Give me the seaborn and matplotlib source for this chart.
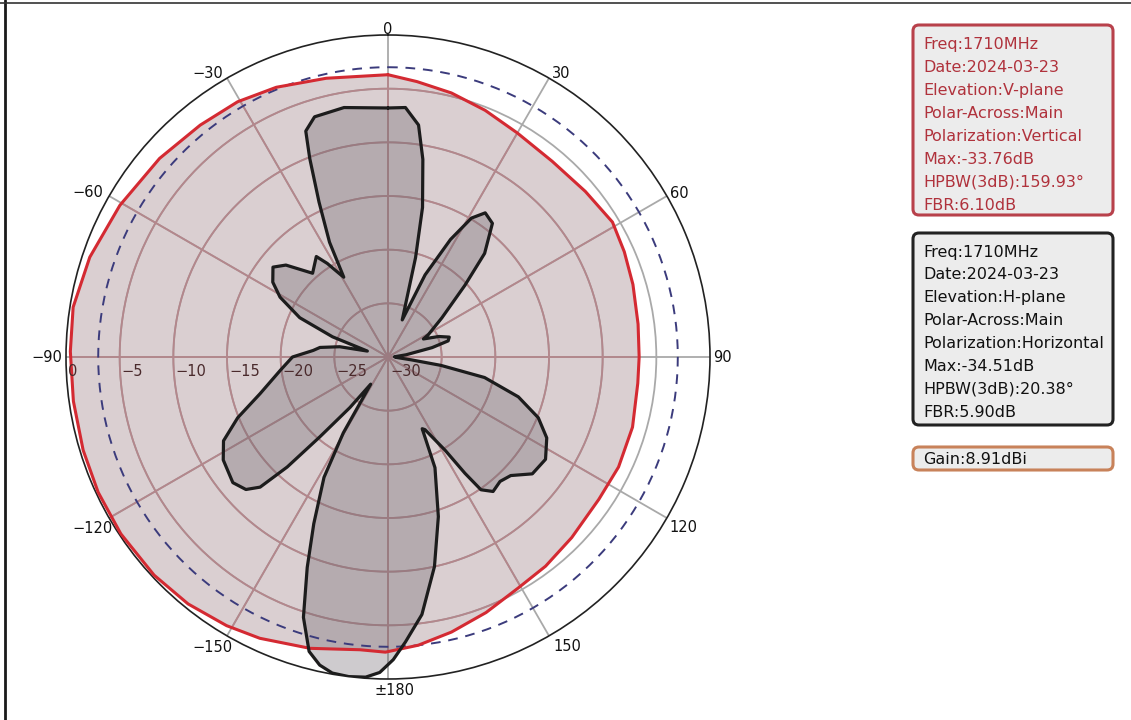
import numpy as np
import matplotlib
matplotlib.use("Agg")
import matplotlib.pyplot as plt
import seaborn as sns
from matplotlib.patches import FancyBboxPatch

# V-plane pattern (red), angle clockwise from 0 deg, level in dB
v_angle = [0, 6, 13.5, 21.5, 30, 40, 50, 59, 66, 73.5, 82.5, 90, 96, 106,
           115.5, 124, 134.5, 143, 150.5, 159, 167, 174, 180.5, 185.5, 195,
           204.5, 211, 219, 227, 236.5, 245, 253, 262, 271, 279, 288.5, 299.5,
           311, 321, 329.5, 337.5, 347.5]
v_db = [-3.7, -4.2, -4.7, -5.3, -5.9, -6.2, -6.0, -5.6, -5.9, -6.2, -6.5, -6.6,
        -6.6, -6.3, -6.2, -6.3, -6.0, -5.6, -5.3, -4.5, -3.7, -3.0, -2.5, -2.6,
        -1.9, -1.2, -0.8, -0.4, -0.2, -0.15, -0.2, -0.3, -0.4, -0.4, -0.3, -0.7,
        -1.3, -1.8, -2.2, -2.4, -2.8, -3.4]

# H-plane pattern (black)
h_angle = [0, 4, 7.5, 10, 13, 15.5, 21, 24.3, 28, 31, 34, 38, 43, 47, 54, 61,
           63, 68, 72, 75, 78, 83, 88, 93, 97, 99, 102, 107, 112, 117, 123, 129,
           134, 138, 142, 145, 146.5, 148.5, 153, 154.5, 157, 162.5, 167.5,
           172.5, 176.5, 179, 181.5, 184, 187, 190, 192.5, 195, 198, 201, 204,
           208, 210.5, 212.5, 217, 220.5, 222.5, 224.5, 227, 231, 238, 243, 248,
           254, 263, 270, 275, 278, 282, 286, 290, 294, 299, 303, 308, 312, 318,
           324.5, 327, 329.5, 331, 333, 336, 338.5, 340, 343, 350]
h_db = [-6.8, -6.7, -8.2, -11.3, -15.7, -20.4, -26.3, -21.6, -17.6, -14.9, -13.8,
        -14.2, -16.8, -20.2, -23.8, -25.7, -26.3, -24.9, -24.0, -24.2, -25.8,
        -28.3, -29.4, -29.2, -27.8, -25.0, -20.8, -17.3, -14.9, -13.4, -12.5,
        -12.7, -14.1, -14.4, -14.1, -14.9, -17.0, -19.8, -22.4, -22.6, -18.8,
        -14.4, -10.0, -5.8, -3.4, -1.8, -0.6, -0.1, 0.0, -0.1, -0.6, -1.6, -4.5,
        -9.0, -13.0, -17.3, -21.8, -27.0, -24.1, -20.2, -16.1, -13.0, -11.9,
        -11.4, -11.9, -12.8, -14.9, -17.6, -19.9, -21.1, -23.0, -23.6, -25.4,
        -28.0, -24.5, -21.0, -18.5, -17.2, -16.4, -17.2, -19.5, -18.5, -19.6,
        -20.9, -21.5, -18.0, -14.2, -10.1, -7.6, -6.6, -6.4]

ring_db = [-25, -20, -15, -10, -5]
r_label_db = [0, -5, -10, -15, -20, -25, -30]
r_labels = ['0', '−5', '−10', '−15', '−20', '−25', '−30']
theta_ticks = [0, 30, 60, 90, 120, 150, 180, 210, 240, 270, 300, 330]
theta_labels = ['0', '30', '60', '90', '120', '150', '±180',
                '−150', '−120', '−90', '−60', '−30']

v_info = ['Freq:1710MHz', 'Date:2024-03-23', 'Elevation:V-plane',
          'Polar-Across:Main', 'Polarization:Vertical', 'Max:-33.76dB',
          'HPBW(3dB):159.93°', 'FBR:6.10dB']
h_info = ['Freq:1710MHz', 'Date:2024-03-23', 'Elevation:H-plane',
          'Polar-Across:Main', 'Polarization:Horizontal', 'Max:-34.51dB',
          'HPBW(3dB):20.38°', 'FBR:5.90dB']
gain_text = 'Gain:8.91dBi'

sns.set_theme(style='white')
plt.rcParams['font.family'] = ['DejaVu Sans']

W, H = 1131, 720
cx, cy, R = 388, 357, 322
fig = plt.figure(figsize=(W / 100, H / 100), dpi=100)

# overlay in pixel coords for legend boxes and frame
ov = fig.add_axes([0, 0, 1, 1], zorder=0)
ov.set_xlim(0, W)
ov.set_ylim(H, 0)
ov.axis('off')

ax = fig.add_axes([(cx - R) / W, (H - cy - R) / H, 2 * R / W, 2 * R / H],
                  projection='polar', zorder=1)
ax.set_theta_zero_location('N')
ax.set_theta_direction(-1)
ax.set_ylim(-30, 0)
ax.set_xticks(np.deg2rad(theta_ticks))
ax.set_xticklabels([])
ax.set_yticks(ring_db)
ax.set_yticklabels([])
ax.set_axisbelow(True)
ax.grid(True, color='#a9a9a9', lw=1.3)
ax.spines['polar'].set_color('#222222')
ax.spines['polar'].set_linewidth(1.2)

vt = np.deg2rad(v_angle + [v_angle[0] + 360])
vr = np.array(v_db + [v_db[0]])
ht = np.deg2rad(h_angle + [h_angle[0] + 360])
hr = np.array(h_db + [h_db[0]])

red_patch = ax.fill(vt, vr, color=(0.59, 0.47, 0.49), alpha=0.35, lw=0, zorder=1)[0]

# grid tinted inside the red area
circ = np.linspace(0, 2 * np.pi, 361)
for ring in ring_db:
    ln, = ax.plot(circ, np.full(circ.size, ring), color='#b4878c', lw=1.3, zorder=1.05)
    ln.set_clip_path(red_patch)
for t in theta_ticks:
    ln, = ax.plot([np.deg2rad(t)] * 2, [-30, 0], color='#b4878c', lw=1.3, zorder=1.05)
    ln.set_clip_path(red_patch)

ax.fill(ht, hr, color=(0.42, 0.39, 0.42), alpha=0.33, lw=0, zorder=1.1)

# -3 dB reference
ax.plot(circ, np.full(circ.size, -3), color='#3b3b7c', lw=1.4, ls=(0, (5, 4)), zorder=2.5)

sns.lineplot(x=vt, y=vr, sort=False, estimator=None, color='#d42a32', lw=2.2, ax=ax, zorder=3)
sns.lineplot(x=ht, y=hr, sort=False, estimator=None, color='#1c1c1c', lw=2.3, ax=ax, zorder=3.1)

# angle labels
t_pos = [('center', 'baseline', 0, 1), ('left', 'baseline', 3, 0),
         ('left', 'baseline', 3, -2), ('left', 'center', 3, 0),
         ('left', 'top', 3, -2), ('left', 'top', 4, -3),
         ('center', 'top', 7, -4), ('right', 'top', 6, -4),
         ('right', 'top', 4, -3), ('right', 'center', -4, 0),
         ('right', 'baseline', -6, -1), ('right', 'baseline', -4, 0)]
for t, lab, (ha, va, dx, dy) in zip(theta_ticks, theta_labels, t_pos):
    ax.annotate(lab, xy=(np.deg2rad(t), 0), xytext=(dx, dy), textcoords='offset pixels',
                ha=ha, va=va, fontsize=10.5, color='#111111', annotation_clip=False)

for v, lab in zip(r_label_db, r_labels):
    ax.annotate(lab, xy=(np.deg2rad(270), v), xytext=(2, -14), textcoords='offset pixels',
                ha='left', va='center', fontsize=10.5, color='#4a2a2c', zorder=4)

# info boxes
boxes = [(25, 190, '#b8414b'), (233, 192, '#222222'), (447, 23, '#c8825a')]
for top, hgt, ec in boxes:
    ov.add_patch(FancyBboxPatch((913, top), 200, hgt,
                                boxstyle='round,pad=0,rounding_size=6',
                                fc='#ececec', ec=ec, lw=2.2))
for i, s in enumerate(v_info):
    ov.text(923, 45 + i * 22.9, s, ha='left', va='center', fontsize=11.5, color='#b0323c')
for i, s in enumerate(h_info):
    ov.text(923, 252 + i * 22.9, s, ha='left', va='center', fontsize=11.5, color='#111111')
ov.text(923, 459, gain_text, ha='left', va='center', fontsize=11.5, color='#111111')

# outer frame
ov.plot([5, 5], [0, H], color='#1a1a1a', lw=2)
ov.plot([0, W], [2.5, 2.5], color='#333333', lw=1.2)

fig.savefig('out.png', dpi=100)
